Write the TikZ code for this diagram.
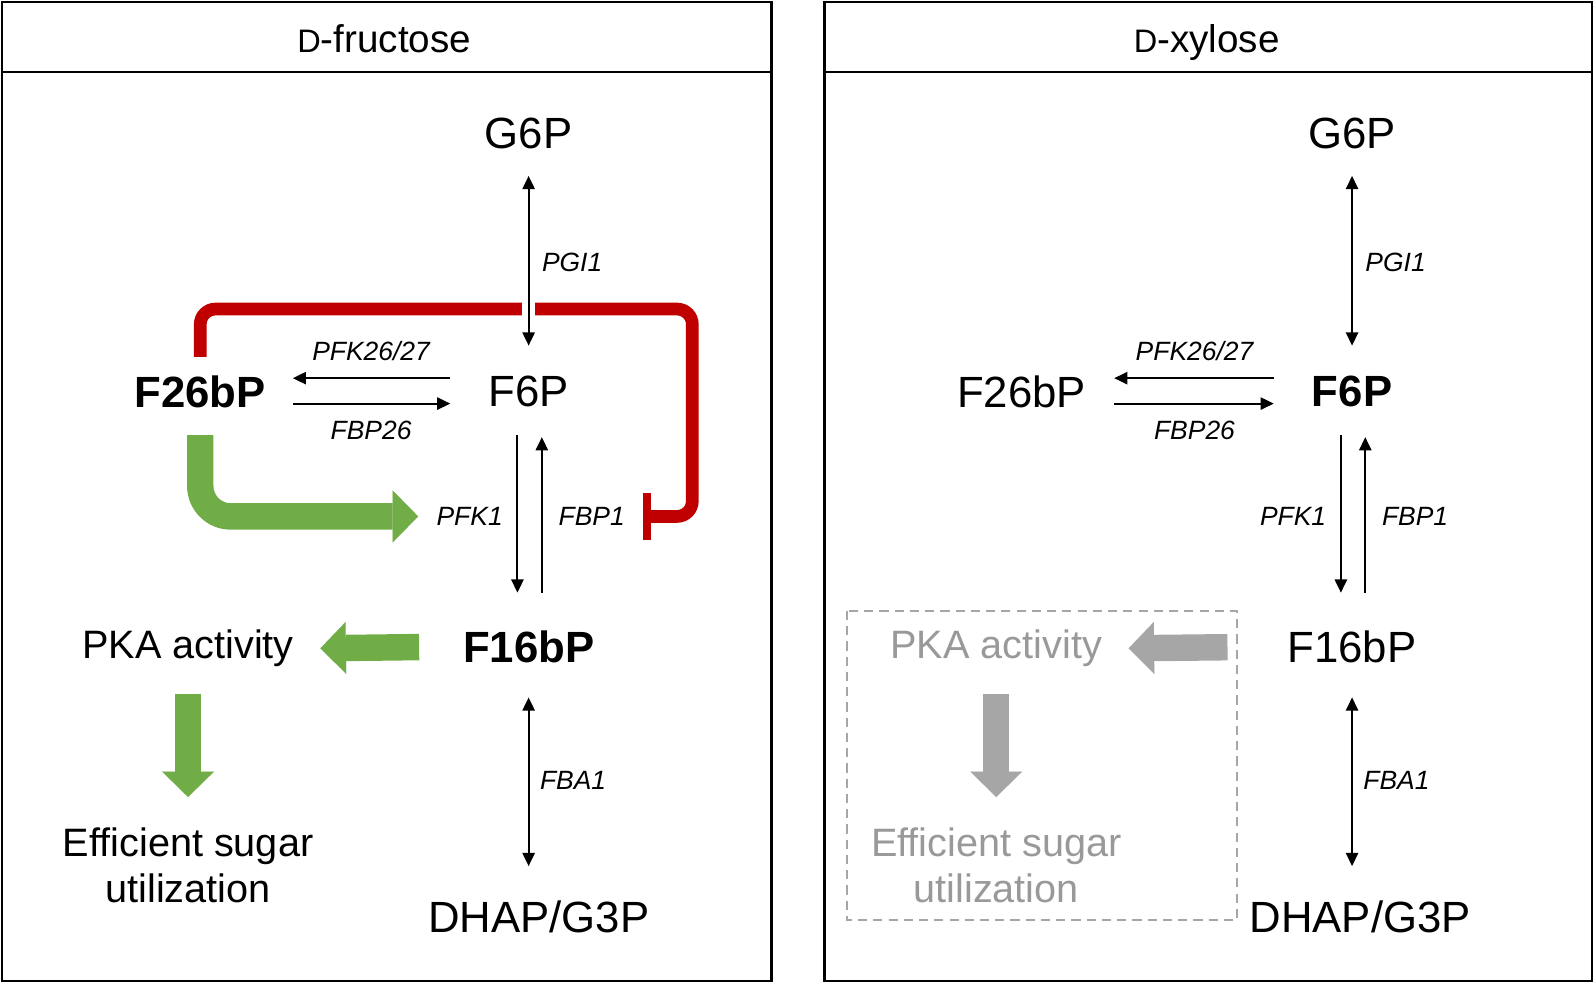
\documentclass[tikz,border=0pt]{standalone}
\usepackage{fontspec}
\setmainfont{Liberation Sans}
\usetikzlibrary{arrows.meta,positioning}

\definecolor{inhred}{HTML}{C00000}
\definecolor{actgreen}{HTML}{70AD47}
\definecolor{offgray}{HTML}{A6A6A6}
\definecolor{offtext}{HTML}{999999}

\tikzset{
  panel/.style={line width=2.2pt},
  title/.style={inner sep=0pt, anchor=base, font=\fontsize{38}{42}\selectfont},
  met/.style={inner sep=0pt, font=\fontsize{43}{48}\selectfont},
  metb/.style={met, font=\fontsize{43}{48}\selectfont\bfseries},
  effect/.style={inner sep=0pt, align=center, font=\fontsize{39}{45}\selectfont},
  gene/.style={inner sep=0pt, font=\fontsize{26}{30}\selectfont\itshape},
  rxn/.style={line width=2pt, -{Triangle[length=13pt,width=12pt]}},
  revrxn/.style={line width=2pt, {Triangle[length=13pt,width=12pt]}-{Triangle[length=13pt,width=12pt]}},
  fat/.style={line width=26pt, -{Triangle[length=25pt,width=51pt,line width=0.01pt]}},
  inhibit/.style={draw=inhred, line width=12.5pt, rounded corners=15pt},
}
\newcommand{\smallD}{{\fontsize{32}{34}\selectfont D}}

\begin{document}
\begin{tikzpicture}[x=1pt, y=-1pt]
  \useasboundingbox (0,0) rectangle (1568,967);

  % 枠
  \draw[panel] (2,2) rectangle (759,965);
  \draw[panel] (2,71) -- (759,71);
  \draw[panel] (811,2) rectangle (1566,965);
  \draw[panel] (811,71) -- (1566,71);
  \node[title] (titleA) at (378,52) {\smallD-fructose};
  \node[title] (titleB) at (1187,52) {\smallD-xylose};

  % 代謝物 (D-fructose)
  \node[met]  (g6pA)  at (520,131) {G6P};
  \node[met]  (f6pA)  at (520,385) {F6P};
  \node[metb] (f26A)  at (197,385) {F26bP};
  \node[metb] (f16A)  at (520,636) {F16bP};
  \node[met]  (dhapA) at (530,902) {DHAP/G3P};
  \node[effect] (pkaA) at (185,638) {PKA activity};
  \node[effect] (effA) at (185,851) {Efficient sugar\\utilization};

  % 遺伝子
  \node[gene, anchor=west] (pgiA) at (533,258) {PGI1};
  \node[gene] (pfk26A) at (365,345) {PFK26/27};
  \node[gene] (fbp26A) at (365,423) {FBP26};
  \node[gene] (pfk1A)  at (462,508) {PFK1};
  \node[gene] (fbp1A)  at (582,508) {FBP1};
  \node[gene, anchor=west] (fbaA) at (531,768) {FBA1};

  % 阻害
  \draw[inhibit] ([yshift=34pt]f26A.center) -- ++(0,-47) -- ++(484,0)
    |- ([xshift=21.5pt]fbp1A.east);
  \draw[inhred, line width=8pt] ([xshift=21.5pt,yshift=23pt]fbp1A.east) -- ([xshift=21.5pt,yshift=-23pt]fbp1A.east);

  % 反応
  \draw[revrxn, shorten <=42pt, shorten >=45pt, preaction={draw=white, line width=13pt, -}] (g6pA.center) -- (f6pA.center);
  \draw[rxn, shorten <=77pt, shorten >=91pt] ([yshift=13pt]f6pA.center) -- ([yshift=13pt]f26A.center);
  \draw[rxn, shorten <=91pt, shorten >=77pt] ([yshift=-12pt]f26A.center) -- ([yshift=-12pt]f6pA.center);
  \draw[rxn, shorten <=43pt, shorten >=53pt] ([xshift=-11pt]f6pA.center) -- ([xshift=-11pt]f16A.center);
  \draw[rxn, shorten <=53pt, shorten >=45pt] ([xshift=13pt]f16A.center) -- ([xshift=13pt]f6pA.center);
  \draw[revrxn, shorten <=50pt, shorten >=50pt] (f16A.center) -- (f16A.center |- dhapA.center);

  % 活性化
  \draw[fat, actgreen, rounded corners=30pt] ([yshift=-43pt]f26A.center) |- ([xshift=-18pt]pfk1A.west);
  \draw[fat, actgreen, shorten <=43pt, shorten >=26pt] (f16A.west) -- (pkaA.east);
  \draw[fat, actgreen, shorten <=45pt, shorten >=67pt] (pkaA.center) -- (effA.center);

  % 代謝物 (D-xylose)
  \node[met]  (g6pB)  at (1330,131) {G6P};
  \node[metb] (f6pB)  at (1330,385) {F6P};
  \node[met]  (f26B)  at (1005,385) {F26bP};
  \node[met]  (f16B)  at (1330,636) {F16bP};
  \node[met]  (dhapB) at (1338,902) {DHAP/G3P};
  \node[effect, text=offtext] (pkaB) at (980,638) {PKA activity};
  \node[effect, text=offtext] (effB) at (980,851) {Efficient sugar\\utilization};

  % 遺伝子
  \node[gene, anchor=west] (pgiB) at (1343,258) {PGI1};
  \node[gene] (pfk26B) at (1175,345) {PFK26/27};
  \node[gene] (fbp26B) at (1175,423) {FBP26};
  \node[gene] (pfk1B)  at (1272,508) {PFK1};
  \node[gene] (fbp1B)  at (1392,508) {FBP1};
  \node[gene, anchor=west] (fbaB) at (1341,768) {FBA1};

  % 反応
  \draw[revrxn, shorten <=42pt, shorten >=45pt] (g6pB.center) -- (f6pB.center);
  \draw[rxn, shorten <=77pt, shorten >=91pt] ([yshift=13pt]f6pB.center) -- ([yshift=13pt]f26B.center);
  \draw[rxn, shorten <=91pt, shorten >=77pt] ([yshift=-12pt]f26B.center) -- ([yshift=-12pt]f6pB.center);
  \draw[rxn, shorten <=43pt, shorten >=53pt] ([xshift=-11pt]f6pB.center) -- ([xshift=-11pt]f16B.center);
  \draw[rxn, shorten <=53pt, shorten >=45pt] ([xshift=13pt]f16B.center) -- ([xshift=13pt]f6pB.center);
  \draw[revrxn, shorten <=50pt, shorten >=50pt] (f16B.center) -- (f16B.center |- dhapB.center);

  % 不活性 (灰色)
  \draw[offgray, line width=2pt, dash pattern=on 9pt off 6pt] (833,601) rectangle (1217,905);
  \draw[fat, offgray, shorten <=59pt, shorten >=26pt] (f16B.west) -- (pkaB.east);
  \draw[fat, offgray, shorten <=45pt, shorten >=67pt] (pkaB.center) -- (effB.center);
\end{tikzpicture}
\end{document}
